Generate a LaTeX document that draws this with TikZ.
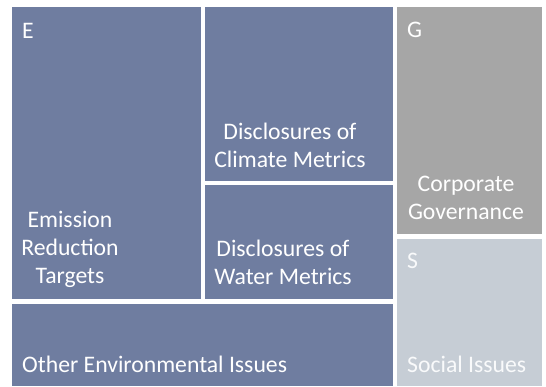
\documentclass[tikz,border=0pt]{standalone}
\usepackage{fontspec}
\setmainfont{Carlito}
\definecolor{EsgBlue}{RGB}{111,125,160}
\definecolor{EsgGray}{RGB}{166,166,166}
\definecolor{EsgLight}{RGB}{198,205,213}
\begin{document}
\begin{tikzpicture}[x=1pt,y=-1pt]
  \tikzset{tile/.style={fill=EsgBlue},lbl/.style={text=white,inner sep=0pt,font=\fontsize{23.7}{28}\selectfont,align=center}}
  \useasboundingbox (0,0) rectangle (546,386);
  % environmental tiles
  \fill[tile] (12,7) rectangle (201,299);
  \fill[tile] (205,7) rectangle (393,181);
  \fill[tile] (205,185) rectangle (393,299);
  \fill[tile] (12,304) rectangle (393,386);
  % governance and social
  \fill[tile,fill=EsgGray] (397,7) rectangle (542,234);
  \fill[tile,fill=EsgLight] (397,239) rectangle (542,386);
  % labels, anchored on the last baseline
  \node[lbl,anchor=base west] (e) at (22,38.5) {E};
  \node[lbl,anchor=base] (climate) at (290,167) {Disclosures of\\Climate Metrics};
  \node[lbl,anchor=base] (emission) at (70,283) {Emission\\Reduction\\Targets};
  \node[lbl,anchor=base] (water) at (283,284) {Disclosures of\\Water Metrics};
  \node[lbl,anchor=base west] (other) at (22,372) {Other Environmental Issues};
  \node[lbl,anchor=base west] (g) at (407,37) {G};
  \node[lbl,anchor=base] (corporate) at (466,219) {Corporate\\Governance};
  \node[lbl,anchor=base west,text=white!90!EsgLight] (s) at (407,268) {S};
  \node[lbl,anchor=base west,text=white!90!EsgLight] (social) at (407,372) {Social Issues};
\end{tikzpicture}
\end{document}
